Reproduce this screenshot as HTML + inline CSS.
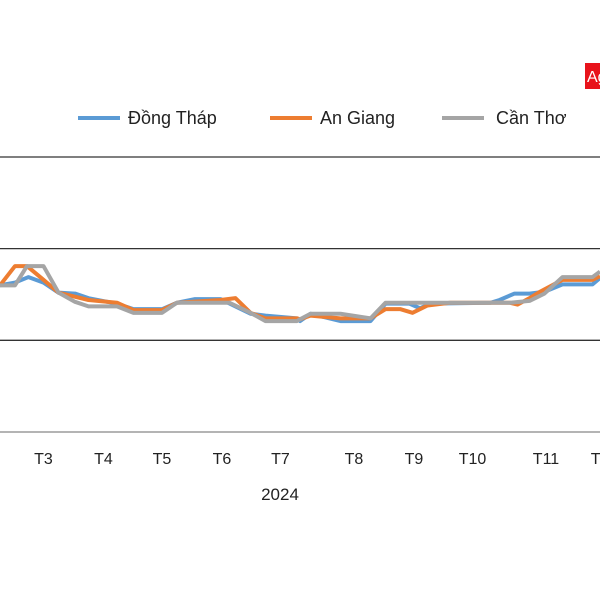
<!DOCTYPE html>
<html><head><meta charset="utf-8"><style>
html,body{margin:0;padding:0;background:#fff;}
svg text{font-family:"Liberation Sans","DejaVu Sans",sans-serif;fill:#222;}
</style></head><body>
<svg id="chart" width="600" height="600" viewBox="0 0 600 600">
<rect x="0" y="0" width="600" height="600" fill="#fff"/>
<rect x="585" y="63" width="15" height="26" fill="#e8131b"/>
<text x="587" y="82" font-size="16" style="fill:#fff">Ag</text>
<g id="legend">
<line x1="78" y1="118" x2="120" y2="118" stroke="#5b9bd5" stroke-width="4"/>
<text x="128" y="124" font-size="18">Đồng Tháp</text>
<line x1="270" y1="118" x2="312" y2="118" stroke="#ed7d31" stroke-width="4"/>
<text x="320" y="124" font-size="18">An Giang</text>
<line x1="442" y1="118" x2="484" y2="118" stroke="#a5a5a5" stroke-width="4"/>
<text x="496" y="124" font-size="18">Cần Thơ</text>
</g>
<g id="grid"></g>
<g id="series"></g>
<g id="xlabels"></g>
<text x="280" y="500" font-size="17" text-anchor="middle">2024</text>
</svg>
<script>
// y gridline values
const gridValues = [0, 1, 2, 3];
// month labels and their week positions
const monthLabels = ["T3","T4","T5","T6","T7","T8","T9","T10","T11","T12"];
const monthWeeks = [2.9,6.9,10.8,14.8,18.7,23.6,27.6,31.5,36.4,40.3];
// series: weeks (time) and values
const grayWeeks = [0,0.3,1,1.8,2.9,3.9,5,5.9,7.8,8.9,10.8,11.8,15.3,16.7,17.7,19.8,20,20.7,22.7,24.7,25.7,28.7,34,35.3,36.3,37.5,39.5,40];
const grayVals  = [1.60,1.60,1.60,1.81,1.81,1.52,1.42,1.37,1.37,1.30,1.30,1.41,1.41,1.30,1.21,1.21,1.23,1.29,1.29,1.24,1.41,1.41,1.41,1.43,1.51,1.69,1.69,1.75];
const orangeWeeks = [0,1,1.8,2.9,3.9,5.9,7.8,8.9,10.8,11.8,14.7,15.7,16.7,17.7,19.8,20,20.7,22.7,24.7,25.7,26.7,27.5,28.5,30,34,34.5,35.3,36,37.5,39.5,40];
const orangeVals  = [1.60,1.81,1.81,1.66,1.52,1.44,1.41,1.33,1.33,1.41,1.44,1.46,1.30,1.24,1.24,1.23,1.27,1.24,1.24,1.34,1.34,1.30,1.38,1.41,1.41,1.39,1.46,1.53,1.66,1.66,1.70];
const blueWeeks = [0,1,1.9,2.9,3.9,5,5.9,7.8,8.9,10.8,11.8,13,14.7,15.7,16.7,17.7,19.8,20,20.7,22.7,24.7,25.7,27.3,28,28.7,32.7,33.3,34.3,35.3,36.3,37.5,39.5,40];
const blueVals  = [1.60,1.63,1.69,1.63,1.52,1.51,1.46,1.40,1.34,1.34,1.41,1.45,1.45,1.37,1.29,1.27,1.24,1.21,1.29,1.21,1.21,1.40,1.40,1.35,1.40,1.41,1.44,1.51,1.51,1.53,1.61,1.61,1.68];

const NS = "http://www.w3.org/2000/svg";
const xScale = w => w * 15;
const yScale = v => 432 - v * 91.67;

const grid = document.getElementById("grid");
gridValues.forEach(v => {
  const l = document.createElementNS(NS, "line");
  l.setAttribute("x1", 0); l.setAttribute("x2", 600);
  l.setAttribute("y1", yScale(v)); l.setAttribute("y2", yScale(v));
  l.setAttribute("stroke", v === 0 ? "#888" : "#333");
  l.setAttribute("stroke-width", 1.3);
  
  
  grid.appendChild(l);
});

const xl = document.getElementById("xlabels");
monthLabels.forEach((m, i) => {
  const t = document.createElementNS(NS, "text");
  t.setAttribute("x", xScale(monthWeeks[i]));
  t.setAttribute("y", 464);
  t.setAttribute("font-size", "16");
  t.setAttribute("text-anchor", "middle");
  t.textContent = m;
  
  
  xl.appendChild(t);
});

const sg = document.getElementById("series");
function drawSeries(weeks, vals, color, name) {
  const p = document.createElementNS(NS, "polyline");
  p.setAttribute("points", weeks.map((w, i) => xScale(w) + "," + yScale(vals[i])).join(" "));
  p.setAttribute("fill", "none");
  p.setAttribute("stroke", color);
  p.setAttribute("stroke-width", 4);
  p.setAttribute("stroke-linejoin", "round");
  
  
  sg.appendChild(p);
}
drawSeries(blueWeeks, blueVals, "#5b9bd5", "line-dong-thap");
drawSeries(orangeWeeks, orangeVals, "#ed7d31", "line-an-giang");
drawSeries(grayWeeks, grayVals, "#a5a5a5", "line-can-tho");
</script>
</body></html>
